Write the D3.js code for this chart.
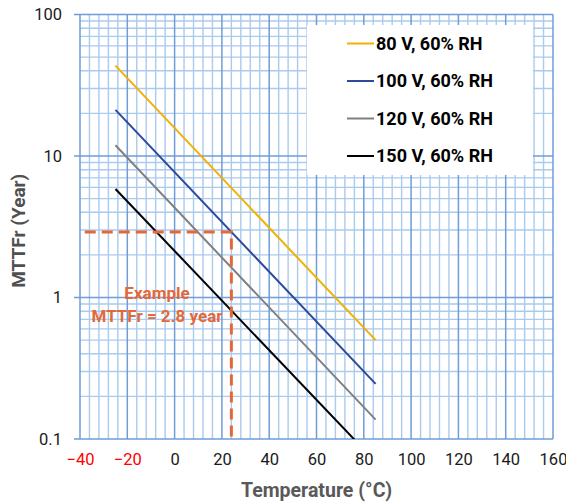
<!DOCTYPE html>
<html>
<head>
<meta charset="utf-8">
<script src="https://cdn.jsdelivr.net/npm/d3@7/dist/d3.min.js"></script>
<style>
  html, body { margin: 0; padding: 0; background: #ffffff; }
  svg { display: block; font-family: Roboto, "Noto Sans", sans-serif; }
</style>
</head>
<body>
<svg id="chart" width="566" height="504"></svg>
<script>
// ---- data ----
const temperatures = [-25, 85];
const seriesNames = ["80 V, 60% RH", "100 V, 60% RH", "120 V, 60% RH", "150 V, 60% RH"];
const mttf80V = [43.5, 0.50];
const mttf100V = [21.2, 0.245];
const mttf120V = [11.9, 0.137];
const mttf150V = [5.85, 0.069];
const seriesColors = ["#f2b000", "#2e4a9c", "#808080", "#000000"];
const xTicks = [-40, -20, 0, 20, 40, 60, 80, 100, 120, 140, 160];
const yTicks = [0.1, 1, 10, 100];
const yTickLabels = ["0.1", "1", "10", "100"];
const exampleTemp = 24;
const exampleMTTF = 2.9;
const exampleStartTemp = -38;
const exampleLabel = ["Example", "MTTFr = 2.8 year"];

// ---- layout ----
const W = 566, H = 504;
const m = { left: 80, right: 13, top: 14.5, bottom: 65 };
const svg = d3.select("#chart");
const x = d3.scaleLinear().domain([-40, 160]).range([m.left, W - m.right]);
const y = d3.scaleLog().domain([0.1, 100]).range([H - m.bottom, m.top]);
const x0 = x.range()[0], x1 = x.range()[1], y0 = y.range()[0], y1 = y.range()[1];

const minorCol = "#aacaee", majorCol = "#6e9dd8";

// minor vertical
const minorX = d3.range(-40, 161, 4).filter(v => v % 20 !== 0);
svg.append("g").selectAll("line").data(minorX).join("line")
  .attr("x1", d => x(d)).attr("x2", d => x(d)).attr("y1", y1).attr("y2", y0)
  .attr("stroke", minorCol).attr("stroke-width", 1.4);
// minor horizontal
const minorY = [];
[0.1, 1, 10].forEach(dec => { for (let k = 2; k <= 9; k++) minorY.push(dec * k); });
svg.append("g").selectAll("line").data(minorY).join("line")
  .attr("x1", x0).attr("x2", x1).attr("y1", d => y(d)).attr("y2", d => y(d))
  .attr("stroke", minorCol).attr("stroke-width", 1.4);
// major vertical
svg.append("g").selectAll("line").data(xTicks).join("line")
  .attr("x1", d => x(d)).attr("x2", d => x(d)).attr("y1", y1).attr("y2", y0)
  .attr("stroke", majorCol).attr("stroke-width", 1.5);
// major horizontal with outward ticks
svg.append("g").selectAll("line").data(yTicks).join("line")
  .attr("x1", x0 - 6).attr("x2", x1).attr("y1", d => y(d)).attr("y2", d => y(d))
  .attr("stroke", majorCol).attr("stroke-width", 1.5);

// axes labels via d3 axes
const xAxis = svg.append("g").attr("transform", `translate(0,${y0})`)
  .call(d3.axisBottom(x).tickValues(xTicks).tickSize(0).tickPadding(14).tickFormat(d3.format("d")));
xAxis.select(".domain").remove();
xAxis.selectAll("text").attr("font-size", 16.5).attr("font-family", "Roboto")
  .attr("fill", d => d < 0 ? "#ff0000" : "#1a1a1a");

const yAxis = svg.append("g").attr("transform", `translate(${x0},0)`)
  .call(d3.axisLeft(y).tickValues(yTicks).tickSize(0).tickPadding(18)
    .tickFormat((d, i) => yTickLabels[i]));
yAxis.select(".domain").remove();
yAxis.selectAll("text").attr("font-size", 16.5).attr("font-family", "Roboto").attr("fill", "#1a1a1a");

// titles
svg.append("text").attr("x", (x0 + x1) / 2).attr("y", 497)
  .attr("text-anchor", "middle").attr("font-size", 19.5).attr("font-weight", "bold")
  .attr("fill", "#595959").text("Temperature (°C)");
svg.append("text").attr("transform", `translate(25,${(y0 + y1) / 2 + 4}) rotate(-90)`)
  .attr("text-anchor", "middle").attr("font-size", 19).attr("font-weight", "bold")
  .attr("fill", "#505050").text("MTTFr (Year)");

// clip
svg.append("clipPath").attr("id", "plotclip").append("rect")
  .attr("x", x0).attr("y", y1).attr("width", x1 - x0).attr("height", y0 - y1);

// series lines
const allSeries = [mttf80V, mttf100V, mttf120V, mttf150V];
const line = d3.line().x(d => x(d[0])).y(d => y(d[1]));
const gLines = svg.append("g").attr("clip-path", "url(#plotclip)");
allSeries.forEach((vals, i) => {
  gLines.append("path").datum(temperatures.map((t, j) => [t, vals[j]]))
    .attr("d", line).attr("fill", "none").attr("stroke", seriesColors[i]).attr("stroke-width", 2);
});

// example dashed lines
const exCol = "#e2683a";
svg.append("path")
  .attr("d", d3.line()([[x(exampleStartTemp), y(exampleMTTF)], [x(exampleTemp), y(exampleMTTF)], [x(exampleTemp), y0]]))
  .attr("fill", "none").attr("stroke", exCol).attr("stroke-width", 3)
  .attr("stroke-dasharray", "11,6");
svg.append("text").attr("x", 157).attr("y", 299).attr("text-anchor", "middle")
  .attr("font-size", 17).attr("font-weight", "bold").attr("fill", exCol).text(exampleLabel[0]);
svg.append("text").attr("x", 157).attr("y", 322).attr("text-anchor", "middle")
  .attr("font-size", 17).attr("font-weight", "bold").attr("fill", exCol).text(exampleLabel[1]);

// legend
const lg = svg.append("g");
lg.append("rect").attr("x", 307).attr("y", 25).attr("width", 226).attr("height", 150).attr("fill", "#ffffff");
const legY = d3.scalePoint().domain(seriesNames).range([43.5, 156]);
seriesNames.forEach((name, i) => {
  lg.append("line").attr("x1", 347).attr("x2", 374).attr("y1", legY(name)).attr("y2", legY(name))
    .attr("stroke", seriesColors[i]).attr("stroke-width", 2);
  lg.append("text").attr("x", 376).attr("y", legY(name)).attr("dy", "0.35em")
    .attr("font-size", 18).attr("font-weight", "bold").attr("fill", "#000").text(name);
});
</script>
</body>
</html>
